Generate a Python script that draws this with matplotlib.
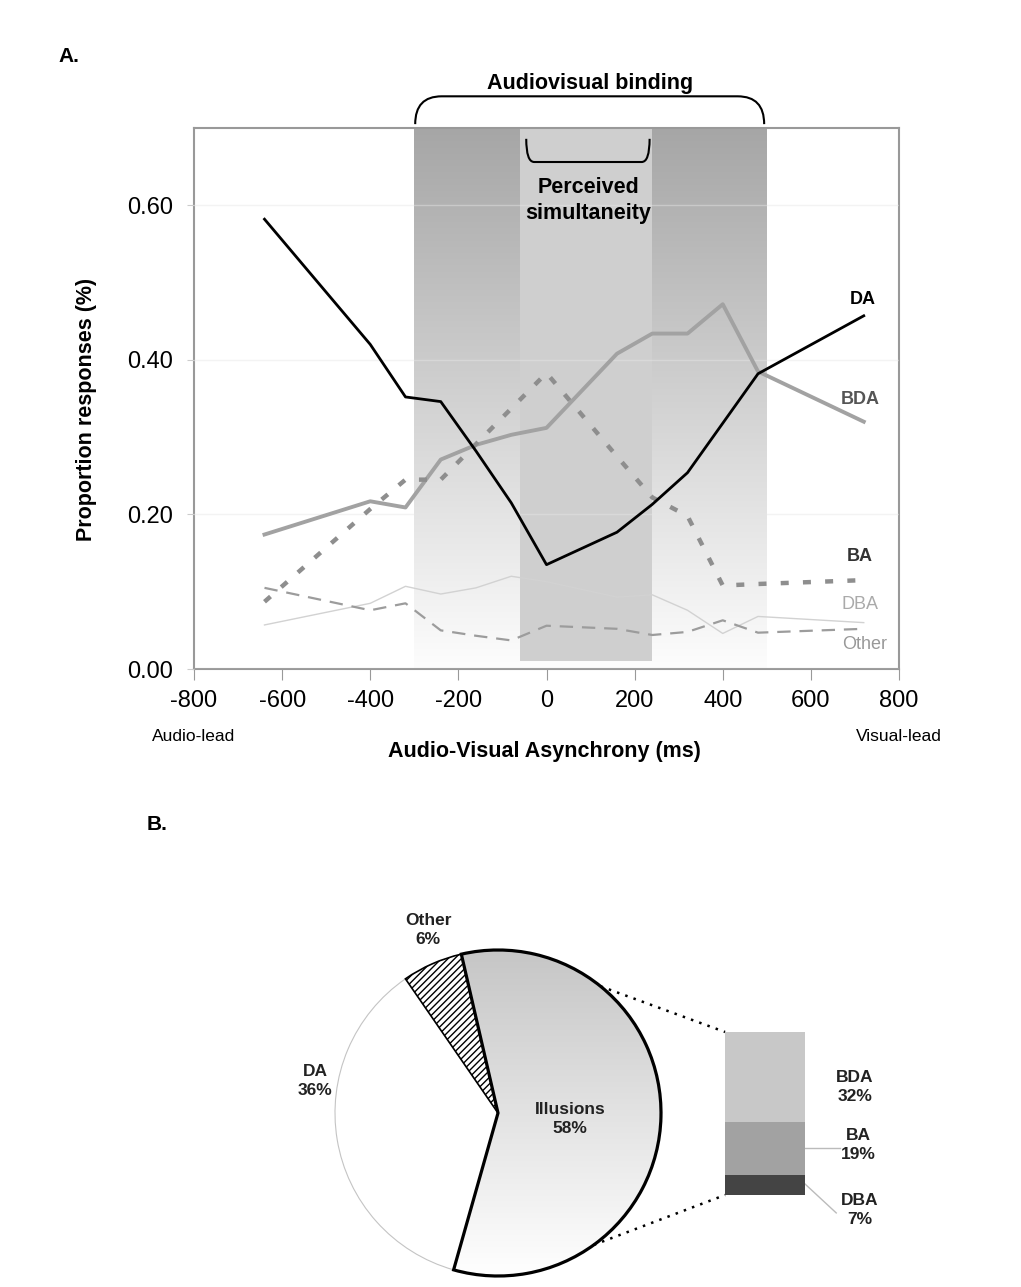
import numpy as np
import matplotlib
matplotlib.use("Agg")
import matplotlib.pyplot as plt
from matplotlib.path import Path
from matplotlib.patches import PathPatch, Rectangle
from matplotlib.colors import LinearSegmentedColormap

plt.rcParams["font.family"] = ["Liberation Sans", "DejaVu Sans"]
plt.rcParams["hatch.linewidth"] = 1.0
plt.rcParams["axes.unicode_minus"] = False

# ---- data: panel A (proportion of responses per asynchrony) ----
soa   = [-640, -400, -320, -240, -160, -80, 0, 160, 240, 320, 400, 480, 720]
da    = [0.582, 0.420, 0.352, 0.346, 0.282, 0.215, 0.135, 0.177, 0.213, 0.254, 0.318, 0.382, 0.457]
bda   = [0.174, 0.217, 0.209, 0.271, 0.290, 0.303, 0.312, 0.408, 0.434, 0.434, 0.472, 0.385, 0.320]
ba    = [0.087, 0.207, 0.245, 0.245, 0.291, 0.337, 0.383, 0.275, 0.222, 0.198, 0.108, 0.110, 0.115]
dba   = [0.057, 0.085, 0.107, 0.097, 0.105, 0.120, 0.113, 0.093, 0.096, 0.076, 0.046, 0.068, 0.060]
other = [0.105, 0.076, 0.085, 0.050, 0.043, 0.037, 0.056, 0.052, 0.044, 0.048, 0.063, 0.047, 0.052]

binding_window = (-300, 500)
simult_window = (-60, 240)

# ---- data: panel B ----
pie_labels = ["Illusions", "DA", "Other"]
pie_vals = [58, 36, 6]
split_labels = ["DBA", "BA", "BDA"]
split_vals = [7, 19, 32]

W, H = 1021, 1287
fig = plt.figure(figsize=(W / 100, H / 100), dpi=100)

# ─────────────────────────────────────────────
# PANEL A
# ─────────────────────────────────────────────
ax = fig.add_axes([194 / W, 1 - 669 / H, (899 - 194) / W, (669 - 128) / H])

band_cmap = LinearSegmentedColormap.from_list("band", ["#fdfdfd", "#a6a6a6"])
grad = np.linspace(0, 1, 256).reshape(-1, 1)
ax.imshow(grad, extent=[binding_window[0], binding_window[1], 0, 0.7], cmap=band_cmap,
          origin="lower", aspect="auto", interpolation="bilinear", zorder=0.5)
ax.add_patch(Rectangle((simult_window[0], 0.01), simult_window[1] - simult_window[0], 0.69,
                       facecolor="#cfcfcf", edgecolor="none", zorder=0.6))

ax.plot(soa, dba, color="#d2d2d2", lw=1.0, zorder=3)
l_other, = ax.plot(soa, other, color="#9c9c9c", lw=1.6, zorder=3)
l_other.set_dashes([6, 4])
ax.plot(soa, bda, color="#a2a2a2", lw=2.8, zorder=3)
l_ba, = ax.plot(soa, ba, color="#8e8e8e", lw=3.2, zorder=3)
l_ba.set_dashes([1.8, 3.2])
ax.plot(soa, da, color="black", lw=2.0, zorder=4)

ax.set_xlim(-800, 800)
ax.set_ylim(0, 0.7)
ax.set_xticks(range(-800, 801, 200))
ax.set_yticks([0, 0.2, 0.4, 0.6])
ax.set_yticklabels(["0.00", "0.20", "0.40", "0.60"])
ax.tick_params(axis="x", direction="out", length=8, color="#999999", labelsize=17, pad=7)
ax.tick_params(axis="y", direction="out", length=5, color="#cccccc", labelsize=17, pad=10)
ax.set_axisbelow(False)
ax.yaxis.grid(True, color="#e6e6e6", alpha=0.45, lw=1.0, zorder=1)
for s in ax.spines.values():
    s.set_color("#999999")
    s.set_linewidth(1.5)

ax.set_ylabel("Proportion responses (%)", fontsize=15.5, fontweight="bold")
ax.yaxis.set_label_coords(-0.138, 0.48)
ax.set_xlabel("Audio-Visual Asynchrony (ms)", fontsize=15.5, fontweight="bold")
ax.xaxis.set_label_coords(0.497, -0.134)
ax.text(0, -0.124, "Audio-lead", transform=ax.transAxes, ha="center", va="center", fontsize=12.5)
ax.text(1, -0.124, "Visual-lead", transform=ax.transAxes, ha="center", va="center", fontsize=12.5)

# series labels
ax.text(718, 0.478, "DA", ha="center", va="center", fontsize=13, fontweight="bold", color="black")
ax.text(712, 0.349, "BDA", ha="center", va="center", fontsize=13, fontweight="bold", color="#555555")
ax.text(712, 0.146, "BA", ha="center", va="center", fontsize=13, fontweight="bold", color="#333333")
ax.text(712, 0.083, "DBA", ha="center", va="center", fontsize=13, color="#aaaaaa")
ax.text(722, 0.032, "Other", ha="center", va="center", fontsize=13, color="#999999")

# audiovisual binding bracket (above the frame)
x0, x1 = -298, 494
yb, yt, r = 0.705, 0.741, 60
verts = [(x0, yb), (x0, yt), (x0 + r, yt), (x1 - r, yt), (x1, yt), (x1, yb)]
codes = [Path.MOVETO, Path.CURVE3, Path.CURVE3, Path.LINETO, Path.CURVE3, Path.CURVE3]
ax.add_patch(PathPatch(Path(verts, codes), fill=False, lw=1.5, color="black", clip_on=False))
ax.text((x0 + x1) / 2, 0.757, "Audiovisual binding", ha="center", va="center",
        fontsize=15.5, fontweight="bold")

# perceived simultaneity bracket
x0, x1 = -46, 234
yt, yb, r = 0.686, 0.656, 18
verts = [(x0, yt), (x0, yb), (x0 + r, yb), (x1 - r, yb), (x1, yb), (x1, yt)]
ax.add_patch(PathPatch(Path(verts, codes), fill=False, lw=1.5, color="black", zorder=5))
ax.text(95, 0.606, "Perceived\nsimultaneity", ha="center", va="center", fontsize=15.5,
        fontweight="bold", linespacing=1.3, zorder=5)

fig.text(58 / W, 1 - 56 / H, "A.", ha="left", va="center", fontsize=15, fontweight="bold")
fig.text(147 / W, 1 - 825 / H, "B.", ha="left", va="center", fontsize=15, fontweight="bold")

# ─────────────────────────────────────────────
# PANEL B
# ─────────────────────────────────────────────
cx, cy, rad = 498, 1113, 163          # pie centre / radius in pixels
bx0, bx1, by0, by1 = 250, 950, 870, 1287
axB = fig.add_axes([bx0 / W, 1 - by1 / H, (bx1 - bx0) / W, (by1 - by0) / H])

wedges, _ = axB.pie(pie_vals, startangle=103, counterclock=False, radius=1, center=(0, 0))
wedges[0].set(facecolor="none", edgecolor="black", linewidth=2.3, zorder=4)
wedges[1].set(facecolor="white", edgecolor="#c4c4c4", linewidth=0.8, zorder=2)
wedges[2].set(facecolor="white", edgecolor="black", linewidth=1.2, hatch="/////", zorder=3)

pie_cmap = LinearSegmentedColormap.from_list("pie", ["#ffffff", "#c6c6c6"])
im = axB.imshow(grad, extent=[-1, 1, -1, 1], cmap=pie_cmap, origin="lower",
                aspect="auto", interpolation="bilinear", zorder=1)
im.set_clip_path(wedges[0])

# stacked bar of illusion types
bar_x, bar_w, bar_bottom, bar_total = 1.638, 0.49, -0.503, 1.0
scale = bar_total / sum(split_vals)
split_colors = ["#444444", "#a2a2a2", "#c8c8c8"]
bottoms = np.concatenate([[0], np.cumsum(split_vals)[:-1]]) * scale + bar_bottom
axB.bar([bar_x] * 3, np.array(split_vals) * scale, bar_w, bottom=bottoms,
        color=split_colors, zorder=3)

# dotted connectors from the illusions wedge to the bar
a_top, a_bot = np.deg2rad(51), np.deg2rad(-54)
axB.plot([np.cos(a_top), bar_x - bar_w / 2], [np.sin(a_top), bar_bottom + bar_total],
         ls=(0, (1, 2.5)), color="black", lw=1.8)
axB.plot([np.cos(a_bot), bar_x - bar_w / 2], [np.sin(a_bot), bar_bottom],
         ls=(0, (1, 2.5)), color="black", lw=1.8)

# leader lines
axB.plot([bar_x + bar_w / 2, 2.10], [-0.215, -0.215], color="#bbbbbb", lw=1.0)
axB.plot([bar_x + bar_w / 2, 2.075], [-0.435, -0.613], color="#bbbbbb", lw=1.0)

lab = dict(ha="center", va="center", fontsize=12.5, fontweight="bold", linespacing=1.35,
           color="#222222")
pie_pos = [(0.442, -0.037), (-1.123, 0.196), (-0.429, 1.123)]
for name, v, (tx, ty) in zip(pie_labels, pie_vals, pie_pos):
    axB.text(tx, ty, f"{name}\n{v}%", zorder=6, **lab)
split_pos = [(2.22, -0.595), (2.21, -0.196), (2.19, 0.16)]
for name, v, (tx, ty) in zip(split_labels, split_vals, split_pos):
    axB.text(tx, ty, f"{name}\n{v}%", **lab)

axB.set_xlim((bx0 - cx) / rad, (bx1 - cx) / rad)
axB.set_ylim((cy - by1) / rad, (cy - by0) / rad)
axB.set_aspect("auto")
axB.axis("off")

fig.savefig("out.png", dpi=100, facecolor="white")
